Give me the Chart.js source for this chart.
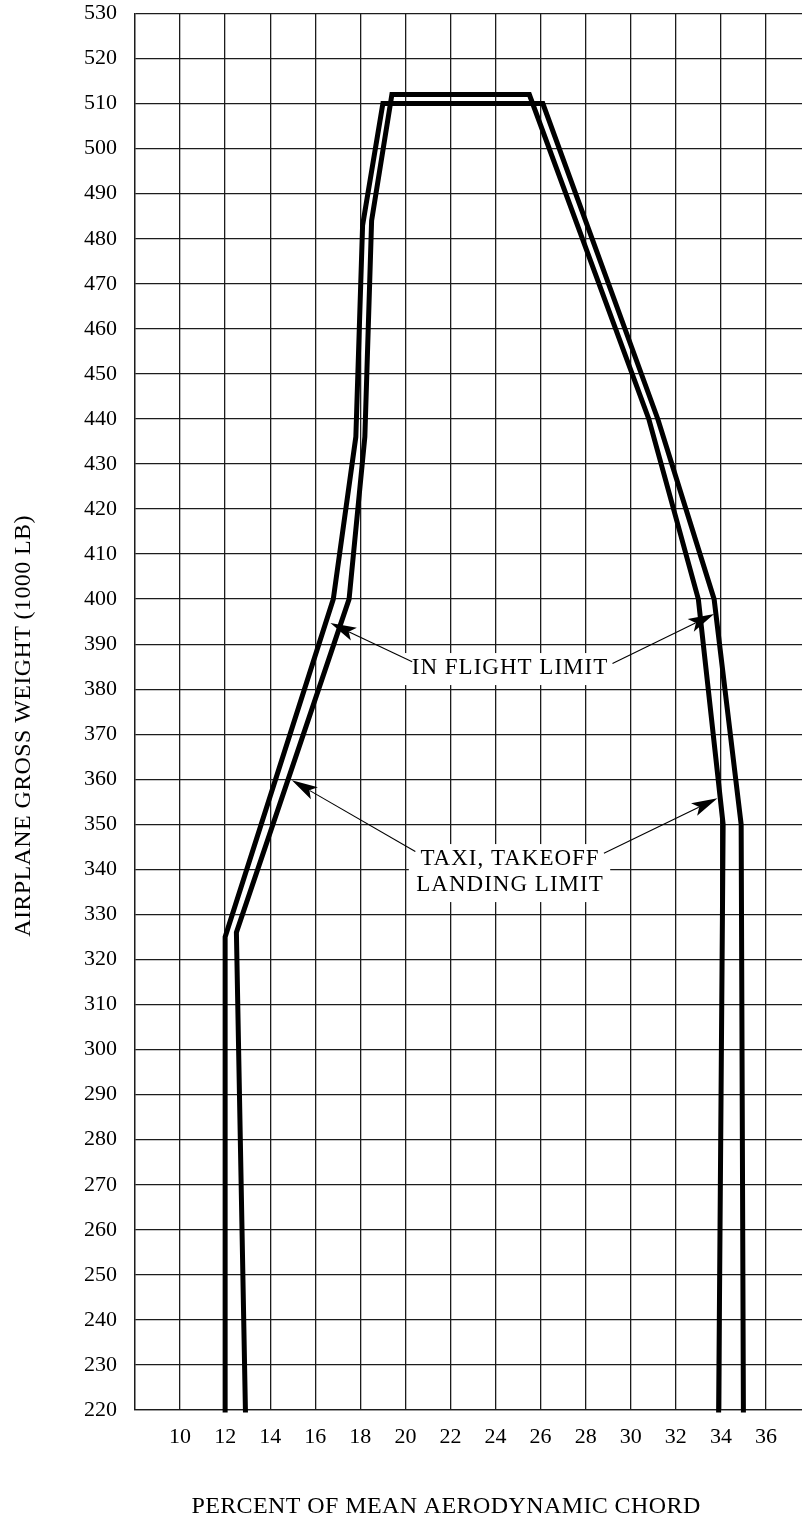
<!DOCTYPE html>
<html>
<head>
<meta charset="utf-8">
<script src="https://cdn.jsdelivr.net/npm/chart.js@4.4.0/dist/chart.umd.min.js"></script>
<style>
  html, body { margin: 0; padding: 0; background: #fff; }
  #wrap { width: 802px; height: 1522px; }
</style>
</head>
<body>
<div id="wrap"><canvas id="cgChart" width="802" height="1522"></canvas></div>
<script>
// envelope corners, % MAC vs gross weight (1000 lb)
const outerPct    = [12.0, 12.0, 16.8, 17.8, 18.1, 19.0, 26.1, 31.2, 33.7, 34.9, 35.0];
const outerWeight = [220,  325,  400,  436,  483,  510,  510,  440,  400,  350,  220];
const innerPct    = [12.9, 12.5, 17.5, 18.2, 18.5, 19.4, 25.5, 30.8, 33.0, 34.1, 33.9];
const innerWeight = [220,  326,  400,  436,  484,  512,  512,  440,  400,  350,  220];

const xGridValues = [8, 10, 12, 14, 16, 18, 20, 22, 24, 26, 28, 30, 32, 34, 36];
const yMin = 220, yMax = 530, yStep = 10;

const SERIF = '"Liberation Serif", "Times New Roman", serif';
const INK = '#1c1c1c';

const toPoints = (xs, ys) => xs.map((v, i) => ({ x: v, y: ys[i] }));

// labels + arrows, positions in chart units
const notes = [
    { lines: ['IN FLIGHT LIMIT'], x: 24.62, y: 384.7,
      arrows: [[20.3, 386.1, 16.67, 394.7], [29.19, 385.7, 33.7, 396.7]] },
    { lines: ['TAXI, TAKEOFF', 'LANDING LIMIT'], x: 24.62, y: 342.3,
      arrows: [[20.44, 344.0, 14.96, 359.8], [28.81, 343.6, 33.85, 355.8]] }
];

function drawArrow(ctx, x0, y0, x1, y1) {
    const ang = Math.atan2(y1 - y0, x1 - x0);
    const len = 26, half = 7;
    ctx.beginPath();
    ctx.moveTo(x0, y0);
    ctx.lineTo(x1 - Math.cos(ang) * len * 0.8, y1 - Math.sin(ang) * len * 0.8);
    ctx.lineWidth = 1.1;
    ctx.stroke();

    const bx = x1 - Math.cos(ang) * len, by = y1 - Math.sin(ang) * len;
    const nx = -Math.sin(ang) * half, ny = Math.cos(ang) * half;
    ctx.beginPath();
    ctx.moveTo(x1, y1);
    ctx.lineTo(bx + nx, by + ny);
    ctx.lineTo(x1 - Math.cos(ang) * len * 0.78, y1 - Math.sin(ang) * len * 0.78);
    ctx.lineTo(bx - nx, by - ny);
    ctx.closePath();
    ctx.fill();
}

const annotate = {
    id: 'annotate',
    afterDatasetsDraw(chart) {
        const { ctx, scales: { x, y } } = chart;
        ctx.save();
        ctx.font = '23px ' + SERIF;
        ctx.letterSpacing = '1px';
        ctx.textAlign = 'center';
        ctx.textBaseline = 'middle';
        const lh = 26;

        notes.forEach(n => {
            const cx = x.getPixelForValue(n.x);
            const cy = y.getPixelForValue(n.y);
            const w = Math.max(...n.lines.map(l => ctx.measureText(l).width));
            const h = lh * n.lines.length;
            ctx.fillStyle = '#fff';
            ctx.fillRect(cx - w / 2 - 7, cy - 15, w + 14, h + 6);

            ctx.fillStyle = '#000';
            n.lines.forEach((l, i) => ctx.fillText(l, cx + 0.5, cy + i * lh));

            ctx.strokeStyle = '#000';
            n.arrows.forEach(a => drawArrow(ctx,
                x.getPixelForValue(a[0]), y.getPixelForValue(a[1]),
                x.getPixelForValue(a[2]), y.getPixelForValue(a[3])));
        });
        ctx.restore();
    }
};

const axisTitles = {
    id: 'axisTitles',
    afterDraw(chart) {
        const { ctx } = chart;
        ctx.save();
        ctx.fillStyle = '#000';
        ctx.font = '24px ' + SERIF;
        ctx.letterSpacing = '0.4px';
        ctx.textAlign = 'center';
        ctx.textBaseline = 'middle';
        ctx.fillText('PERCENT OF MEAN AERODYNAMIC CHORD', 446, 1507);
        ctx.translate(24, 726);
        ctx.rotate(-Math.PI / 2);
        ctx.fillText('AIRPLANE GROSS WEIGHT (1000 LB)', 0, 0);
        ctx.restore();
    }
};

const lineStyle = {
    borderColor: '#000',
    borderWidth: 5,
    borderJoinStyle: 'miter',
    borderCapStyle: 'square',
    pointRadius: 0,
    tension: 0,
    fill: false,
    clip: false
};

new Chart(document.getElementById('cgChart'), {
    type: 'line',
    data: {
        datasets: [
            { label: 'outer', data: toPoints(outerPct, outerWeight), ...lineStyle },
            { label: 'inner', data: toPoints(innerPct, innerWeight), ...lineStyle }
        ]
    },
    options: {
        responsive: false,
        animation: false,
        events: [],
        layout: { padding: { top: 13.5, right: 0, bottom: 0, left: 0 } },
        plugins: { legend: { display: false }, tooltip: { enabled: false } },
        scales: {
            x: {
                type: 'linear',
                min: 8,
                max: 37.6,
                afterBuildTicks: s => { s.ticks = xGridValues.map(v => ({ value: v })); },
                afterFit: s => { s.height = 112; s.paddingLeft = 0; s.paddingRight = 0; },
                ticks: {
                    autoSkip: false,
                    maxRotation: 0,
                    padding: 14,
                    color: '#000',
                    font: { family: SERIF, size: 22 },
                    callback: v => v === xGridValues[0] ? '' : String(v)
                },
                grid: { drawTicks: false, color: INK, lineWidth: 1.3 },
                border: { display: true, color: INK, width: 1.3 }
            },
            y: {
                min: yMin,
                max: yMax,
                afterFit: s => { s.width = 135; s.paddingTop = 0; s.paddingBottom = 0; },
                ticks: {
                    stepSize: yStep,
                    autoSkip: false,
                    padding: 18,
                    color: '#000',
                    font: { family: SERIF, size: 22 }
                },
                grid: { drawTicks: false, color: INK, lineWidth: 1.3 },
                border: { display: true, color: INK, width: 1.3 }
            }
        }
    },
    plugins: [annotate, axisTitles]
});
</script>
</body>
</html>
